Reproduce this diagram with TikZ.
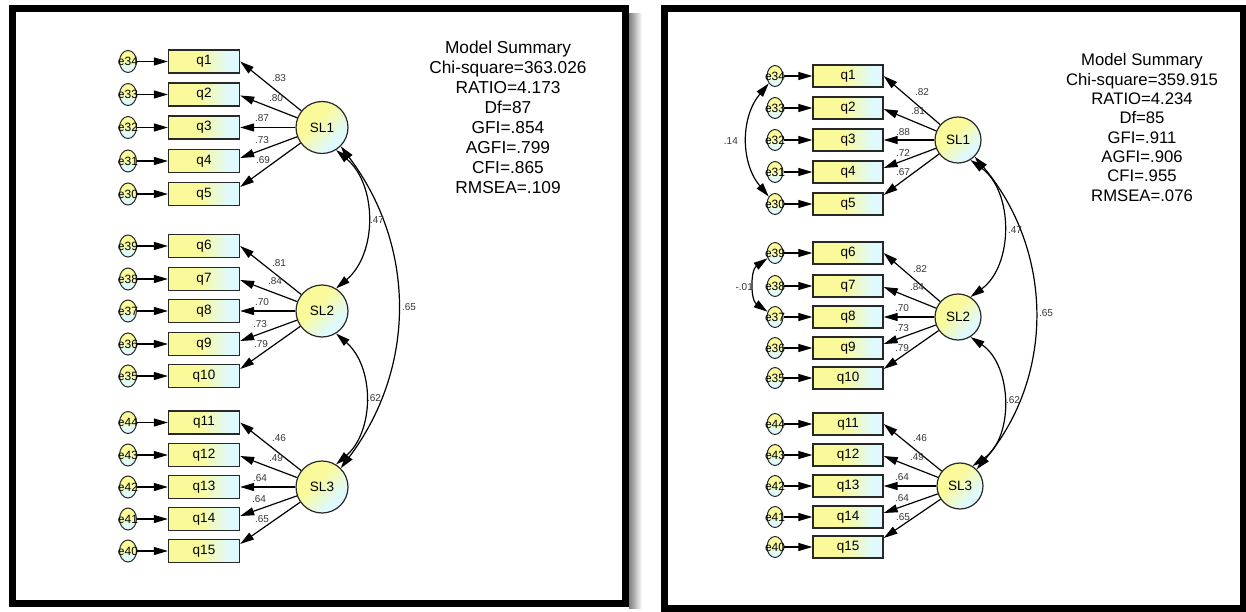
\documentclass[tikz,border=0pt]{standalone}
\usepackage{fontspec}
\setmainfont{Liberation Sans}
\usetikzlibrary{arrows.meta,shapes.geometric,calc}
\definecolor{ylw}{RGB}{250,250,155}
\definecolor{cyn}{RGB}{222,250,255}
\definecolor{edgec}{RGB}{40,40,40}
\definecolor{lblc}{RGB}{55,55,55}
\pgfdeclarehorizontalshading{boxsh}{100bp}{color(0bp)=(ylw); color(25bp)=(ylw); color(47bp)=(ylw); color(68bp)=(cyn); color(100bp)=(cyn)}
\pgfdeclareverticalshading{circsh}{100bp}{color(0bp)=(cyn); color(32bp)=(cyn); color(58bp)=(ylw); color(100bp)=(ylw)}
\pgfdeclareverticalshading{ellsh}{100bp}{color(0bp)=(cyn); color(35bp)=(cyn); color(55bp)=(ylw); color(100bp)=(ylw)}
\tikzset{
  errn/.style={ellipse, draw=edgec, line width=1pt, shading=ellsh,
    minimum width=17pt, minimum height=22pt, inner sep=0pt, font=\fontsize{12}{12}\selectfont},
  obsn/.style={rectangle, draw=edgec, line width=1.3pt, shading=boxsh,
    minimum width=71pt, minimum height=23pt, inner sep=0pt,
    font=\fontsize{13.5}{13.5}\selectfont},
  latn/.style={circle, draw=edgec, line width=1.2pt, shading=circsh,
    shading angle=45, minimum size=52pt, inner sep=0pt, font=\fontsize{13.5}{13.5}\selectfont},
  coef/.style={inner sep=0pt, text=lblc, font=\fontsize{10}{10}\selectfont},
  sumt/.style={inner sep=0pt, anchor=base, font=\fontsize{17.3}{17.3}\selectfont},
  arr/.style={-{Triangle[length=14pt,width=8pt]}, line width=1.2pt},
  cov/.style={{Triangle[length=14pt,width=8pt]}-{Triangle[length=14pt,width=8pt]}, line width=1.2pt},
}
\begin{document}
\begin{tikzpicture}[x=1pt,y=-1pt]
\useasboundingbox (0,0) rectangle (1246,612);
\fill[white] (0,0) rectangle (1246,612);
% frames
\shade[left color=black!50, right color=white] (629,14) rectangle (642,608);
\draw[line width=7pt] (12.5,8.5) rectangle (625.5,603.5);
\draw[line width=7pt] (664.5,8.5) rectangle (1243,608.5);

% ---------------- LEFT MODEL ----------------
\foreach \e/\y [count=\i] in {34/61.5,33/94.5,32/127.5,31/161,30/194,
    39/246,38/279,37/311,36/344,35/376,
    44/422.5,43/455,42/487,41/519,40/551} {
  \node[errn] (Le\e) at (128,\y) {\makebox[0pt]{e\e}};
  \node[obsn] (Lq\i) at (204,\y) {q\i};
  \draw[arr] (Le\e) -- (Lq\i);
}
\node[latn] (LSL1) at (322,127.5) {SL1};
\node[latn] (LSL2) at (322,311) {SL2};
\node[latn] (LSL3) at (322,487) {SL3};

\foreach \q/\yo/\ox/\oy/\v in {1/0/-43/-49/.83, 2/-1/-46/-29/.80, 3/0/-60/-9/.87, 4/3/-60/13/.73, 5/7/-59/33/.69} {
  \draw[arr] (LSL1) -- ([yshift=\yo pt]Lq\q.east);
  \node[coef] (Lc\q) at ($(LSL1)+(\ox,\oy)$) {\v};
}
\foreach \q/\yo/\ox/\oy/\v in {6/0/-43/-48/.81, 7/-1/-47/-30/.84, 8/0/-60/-9/.70, 9/3/-62/13/.73, 10/7/-61/33/.79} {
  \draw[arr] (LSL2) -- ([yshift=\yo pt]Lq\q.east);
  \node[coef] (Lc\q) at ($(LSL2)+(\ox,\oy)$) {\v};
}
\foreach \q/\yo/\ox/\oy/\v in {11/0/-43/-49/.46, 12/-1/-46/-29/.49, 13/0/-62/-9/.64, 14/3/-63/12/.64, 15/7/-60/32/.65} {
  \draw[arr] (LSL3) -- ([yshift=\yo pt]Lq\q.east);
  \node[coef] (Lc\q) at ($(LSL3)+(\ox,\oy)$) {\v};
}
\draw[cov] (LSL1.-58) to[out=-40,in=40] (LSL2.58);
\draw[cov] (LSL1.-45) to[out=-53,in=53] (LSL3.45);
\draw[cov] (LSL2.-58) to[out=-41,in=41] (LSL3.58);
\node[coef] (Lk12) at (377,220) {.47};
\node[coef] (Lk13) at (409,307) {.65};
\node[coef] (Lk23) at (374,398) {.62};

\foreach \t [count=\i] in {Model Summary,Chi-square=363.026,RATIO=4.173,Df=87,GFI=.854,AGFI=.799,CFI=.865,RMSEA=.109} {
  \node[sumt] (Ls\i) at (508,{53.2+20*(\i-1)}) {\t};
}

% ---------------- RIGHT MODEL ----------------
\tikzset{obsn/.append style={minimum width=70pt, minimum height=22pt},
         errn/.append style={minimum width=16pt, minimum height=21pt},
         latn/.append style={minimum size=46pt},
         sumt/.append style={font=\fontsize{16.7}{16.7}\selectfont}}
\foreach \e/\y [count=\i] in {34/76,33/108,32/140,31/172,30/204,
    39/253,38/286,37/317,36/348,35/378,
    44/424,43/455,42/486,41/517,40/547} {
  \node[errn] (Re\e) at (775,\y) {\makebox[0pt]{e\e}};
  \node[obsn] (Rq\i) at (848,\y) {q\i};
  \draw[arr] (Re\e) -- (Rq\i);
}
\node[latn] (RSL1) at (958,140) {SL1};
\node[latn] (RSL2) at (958,317) {SL2};
\node[latn] (RSL3) at (960,486) {SL3};

\foreach \q/\yo/\ox/\oy/\v in {1/0/-36/-48/.82, 2/-1/-40/-29/.81, 3/0/-55/-8/.88, 4/4/-55/13/.72, 5/9/-55/32/.67} {
  \draw[arr] (RSL1) -- ([yshift=\yo pt]Rq\q.east);
  \node[coef] (Rc\q) at ($(RSL1)+(\ox,\oy)$) {\v};
}
\foreach \q/\yo/\ox/\oy/\v in {6/0/-38/-48/.82, 7/-1/-41/-30/.84, 8/0/-56/-9/.70, 9/4/-56/11/.73, 10/9/-56/31/.79} {
  \draw[arr] (RSL2) -- ([yshift=\yo pt]Rq\q.east);
  \node[coef] (Rc\q) at ($(RSL2)+(\ox,\oy)$) {\v};
}
\foreach \q/\yo/\ox/\oy/\v in {11/0/-40/-48/.46, 12/-1/-43/-29/.49, 13/0/-58/-9/.64, 14/4/-58/12/.64, 15/9/-57/31/.65} {
  \draw[arr] (RSL3) -- ([yshift=\yo pt]Rq\q.east);
  \node[coef] (Rc\q) at ($(RSL3)+(\ox,\oy)$) {\v};
}
\draw[cov] (RSL1.-58) to[out=-36,in=36] (RSL2.58);
\draw[cov] (RSL1.-45) to[out=-50,in=50] (RSL3.45);
\draw[cov] (RSL2.-58) to[out=-34,in=34] (RSL3.58);
\node[coef] (Rk12) at (1015,230) {.47};
\node[coef] (Rk13) at (1046,313) {.65};
\node[coef] (Rk23) at (1013,400) {.62};

% error covariances
\draw[cov] (Re34) to[out=-130,in=130] (Re30);
\draw[cov] (Re39) to[out=-145,in=145] (Re37);
\node[coef, anchor=east] (Rk1430) at (738,141) {.14};
\node[coef, anchor=east] (Rk3937) at (753,287) {-.01};

\foreach \t [count=\i] in {Model Summary,Chi-square=359.915,RATIO=4.234,Df=85,GFI=.911,AGFI=.906,CFI=.955,RMSEA=.076} {
  \node[sumt] (Rs\i) at (1142,{66+19.3*(\i-1)}) {\t};
}
\end{tikzpicture}
\end{document}
